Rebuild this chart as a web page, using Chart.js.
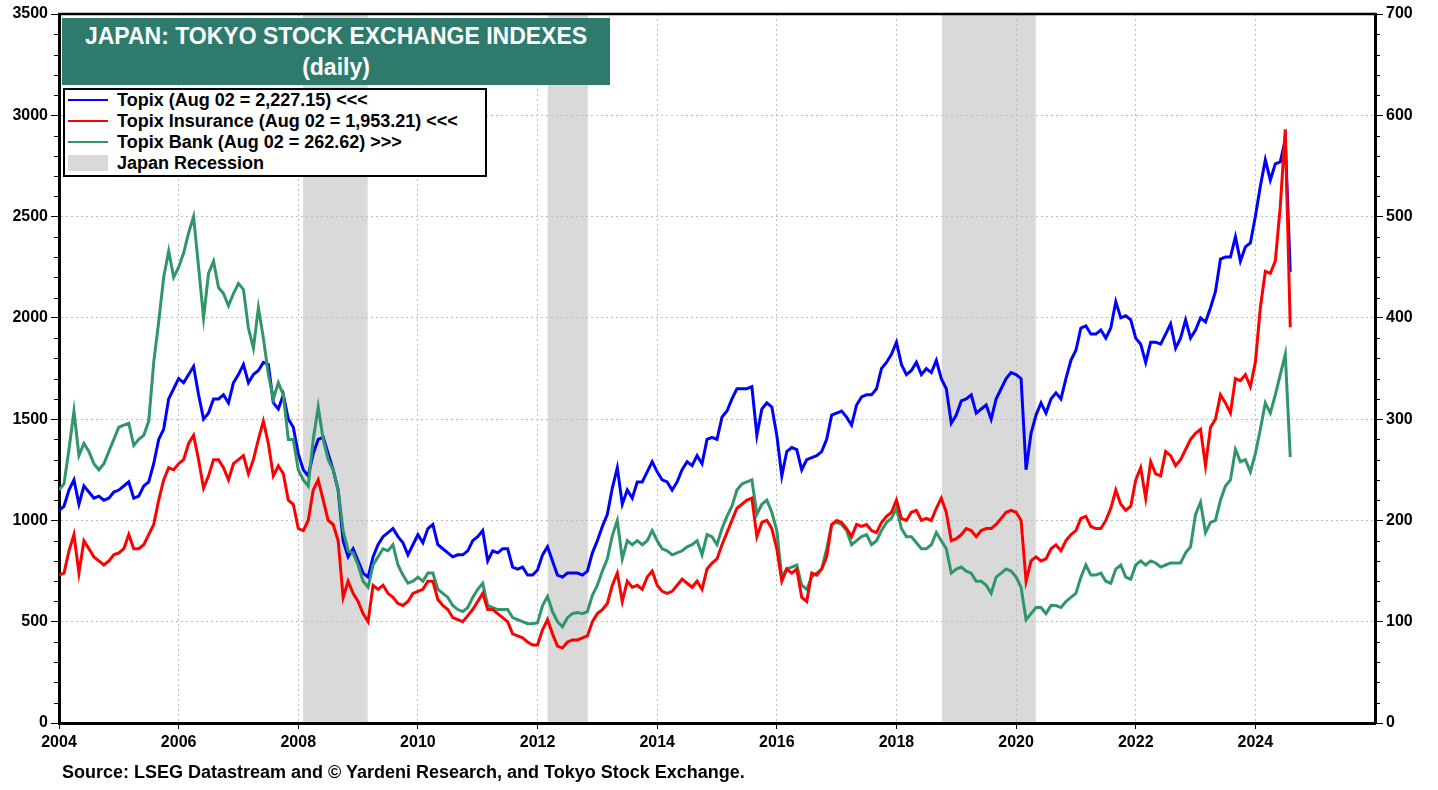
<!DOCTYPE html>
<html>
<head>
<meta charset="utf-8">
<script src="https://cdn.jsdelivr.net/npm/chart.js@4"></script>
<style>
  html, body { margin: 0; padding: 0; background: #fff; }
  #wrap { position: relative; width: 1438px; height: 790px; font-family: "Liberation Sans", Arial, sans-serif; }
  #title { position: absolute; left: 62px; top: 18px; width: 548px; height: 67px; background: #2e7b6e;
           color: #fff; font-weight: bold; font-size: 23px; line-height: 31px; text-align: center; padding-top: 3px; box-sizing: border-box; }
  #legend { position: absolute; left: 63px; top: 88px; width: 424px; height: 89px; border: 2px solid #000;
            background: #fff; box-sizing: border-box; font-weight: bold; font-size: 18px; }
  .row { position: absolute; left: 3px; height: 20px; line-height: 20px; white-space: nowrap; }
  .row span.sw { position: absolute; left: 0; top: 9px; width: 40px; height: 2px; }
  .row span.tx { position: absolute; left: 49px; top: 0; }
  #source { position: absolute; left: 62px; top: 762px; font-weight: bold; font-size: 18px; white-space: nowrap; }
</style>
</head>
<body>
<div id="wrap">
  <canvas id="chart" width="1438" height="790"></canvas>
  <div id="title">JAPAN: TOKYO STOCK EXCHANGE INDEXES<br>(daily)</div>
  <div id="legend">
    <div class="row" style="top:0px"><span class="sw" style="background:#0000ff"></span><span class="tx">Topix (Aug 02 = 2,227.15) &lt;&lt;&lt;</span></div>
    <div class="row" style="top:21px"><span class="sw" style="background:#ff0000"></span><span class="tx">Topix Insurance (Aug 02 = 1,953.21) &lt;&lt;&lt;</span></div>
    <div class="row" style="top:42px"><span class="sw" style="background:#2f9668"></span><span class="tx">Topix Bank (Aug 02 = 262.62) &gt;&gt;&gt;</span></div>
    <div class="row" style="top:63px"><span class="sw" style="background:#d9d9d9;top:2px;height:16px"></span><span class="tx">Japan Recession</span></div>
  </div>
  <div id="source">Source: LSEG Datastream and © Yardeni Research, and Tokyo Stock Exchange.</div>
</div>
<script>
// monthly readings, Jan 2004 .. Aug 2024 (last = Aug 02)
const startYear = 2004;

const topix = [
  1050, 1070, 1150, 1200, 1080, 1170, 1140, 1110, 1120, 1100, 1110, 1140,
  1150, 1170, 1190, 1110, 1120, 1170, 1190, 1280, 1400, 1450, 1600, 1650,
  1700, 1680, 1720, 1760, 1620, 1500, 1530, 1600, 1600, 1620, 1580, 1680,
  1720, 1770, 1680, 1720, 1740, 1780, 1770, 1580, 1550, 1620, 1500, 1460,
  1330, 1250, 1220, 1330, 1400, 1410, 1330, 1250, 1150, 900, 820, 860,
  800, 740, 720, 820, 880, 920, 940, 960, 920, 890, 830, 880,
  930, 890, 960, 980, 880, 860, 840, 820, 830, 830, 850, 900,
  920, 950, 800, 850, 840, 860, 860, 770, 760, 770, 730, 730,
  755, 830, 870, 800, 730, 720, 740, 740, 740, 730, 750, 840,
  900, 970, 1030, 1160, 1260, 1080, 1150, 1110, 1190, 1190, 1240, 1290,
  1240, 1200, 1190, 1150, 1190, 1250, 1290, 1270, 1320, 1280, 1400, 1410,
  1400, 1510, 1540, 1600, 1650, 1650, 1650, 1660, 1420, 1550, 1580, 1560,
  1420, 1220, 1340, 1360, 1350, 1250, 1300, 1310, 1320, 1340, 1400, 1520,
  1530, 1540, 1510, 1470, 1570, 1610, 1620, 1620, 1650, 1750, 1780, 1820,
  1880, 1770, 1720, 1740, 1780, 1720, 1750, 1730, 1790, 1700, 1650, 1480,
  1520, 1590, 1600, 1620, 1530, 1550, 1570, 1500, 1600, 1650, 1700, 1730,
  1720, 1700, 1250, 1430, 1520, 1580, 1530, 1600, 1630, 1600, 1700, 1790,
  1840, 1950, 1960, 1920, 1920, 1940, 1900, 1950, 2080, 2000, 2010, 1990,
  1900, 1870, 1780, 1880, 1880, 1870, 1920, 1970, 1850, 1900, 1990, 1900,
  1940, 2000, 1980, 2050, 2130, 2290, 2300, 2300, 2400, 2280, 2350, 2370,
  2500, 2650, 2780, 2680, 2760, 2770, 2880, 2227.15
];

const insurance = [
  730, 740, 850, 930, 740, 900, 860, 820, 800, 780, 800, 830,
  840, 860, 930, 860, 860, 880, 930, 980, 1100, 1200, 1260, 1250,
  1280, 1300, 1380, 1420, 1300, 1160, 1220, 1300, 1300, 1260, 1200, 1280,
  1300, 1320, 1230, 1300, 1400, 1490, 1380, 1220, 1270, 1230, 1100, 1080,
  960, 950, 1000, 1150, 1200, 1100, 1000, 980, 900, 620, 700, 640,
  600, 540, 500, 680, 660, 680, 640, 620, 590, 580, 600, 640,
  650, 660, 700, 700, 610, 580, 560, 520, 510, 500, 530, 560,
  600, 640, 560, 560, 540, 520, 500, 440, 430, 420, 400, 385,
  385, 460, 510, 440, 380, 370, 400, 410, 410, 420, 430, 500,
  540, 560, 590, 680, 740, 600, 700, 670, 680, 660, 720, 750,
  680, 650, 640, 650, 680, 710, 690, 670, 700, 660, 760, 790,
  810, 880, 940, 1000, 1060, 1080, 1100, 1110, 920, 990, 1000, 960,
  860, 700, 760, 740, 760, 620, 600, 740, 730, 760, 820, 980,
  1000, 990, 960, 920, 980, 970, 980, 950, 940, 990, 1020, 1040,
  1100, 1010, 1000, 1040, 1050, 1000, 1010, 1000, 1060, 1110, 1040, 900,
  910, 930, 960, 950, 920, 950, 960, 960, 980, 1010, 1040, 1050,
  1040, 1000, 700, 800, 820, 800, 810, 860, 880, 850, 900, 930,
  950, 1010, 1020, 970, 960, 960, 1000, 1060, 1150, 1080, 1050, 1070,
  1200, 1260, 1110, 1290, 1230, 1220, 1340, 1320, 1270, 1300, 1350, 1400,
  1430, 1450, 1270, 1460, 1500, 1620, 1580, 1530, 1700, 1690, 1720, 1660,
  1780, 2050, 2230, 2220, 2280, 2550, 2930, 1953.21
];

// right axis
const bank = [
  230, 236, 270, 308, 264, 276, 268, 256, 250, 256, 268, 280,
  292, 294, 296, 274, 280, 284, 298, 356, 396, 440, 466, 440,
  450, 464, 484, 500, 450, 400, 444, 456, 430, 424, 412, 424,
  434, 428, 390, 370, 410, 380, 344, 320, 336, 324, 280, 280,
  250, 240, 234, 280, 312, 280, 260, 250, 230, 190, 170, 168,
  156, 140, 134, 156, 164, 172, 170, 176, 156, 146, 138, 140,
  144, 140, 148, 148, 132, 128, 124, 116, 112, 110, 114, 124,
  132, 138, 116, 114, 112, 112, 112, 104, 102, 100, 98, 98,
  99, 116, 125, 110, 100, 95, 104, 108, 109, 108, 110, 126,
  136, 150, 162, 185, 200, 162, 180, 176, 180, 176, 180, 190,
  180, 172, 170, 166, 168, 170, 174, 176, 180, 166, 186, 184,
  176, 192, 204, 214, 230, 236, 238, 240, 206, 216, 220, 208,
  190, 144, 152, 154, 156, 136, 132, 144, 148, 152, 172, 196,
  198, 196, 190, 176, 180, 184, 186, 176, 180, 190, 198, 202,
  212, 192, 184, 184, 178, 172, 172, 176, 188, 180, 172, 148,
  152, 154, 150, 148, 140, 140, 136, 128, 144, 148, 152, 150,
  144, 134, 102, 108, 114, 114, 108, 116, 116, 114, 120, 124,
  128, 144, 156, 146, 146, 148, 140, 138, 152, 156, 144, 142,
  156, 160, 156, 160, 158, 154, 156, 158, 158, 158, 168, 174,
  206, 218, 188, 198, 200, 220, 234, 240, 270, 258, 260, 248,
  266, 290, 316, 306, 324, 344, 364, 262.62
];

const recessionStart = [2008.08, 2012.17, 2018.76];
const recessionEnd = [2009.16, 2012.84, 2020.33];
const xTickYears = [2004, 2006, 2008, 2010, 2012, 2014, 2016, 2018, 2020, 2022, 2024];

const toPoints = arr => arr.map((v, i) => ({ x: startYear + i / 12, y: v }));

const tickFont = { family: 'Liberation Sans, Arial, sans-serif', size: 16, weight: 'bold' };

const recessionPlugin = {
  id: 'recessions',
  beforeDraw(chart) {
    const { ctx, chartArea, scales } = chart;
    ctx.save();
    ctx.fillStyle = '#d9d9d9';
    recessionStart.forEach((s, i) => {
      const x0 = scales.x.getPixelForValue(s);
      const x1 = scales.x.getPixelForValue(recessionEnd[i]);
      ctx.fillRect(x0, chartArea.top, x1 - x0, chartArea.bottom - chartArea.top);
    });
    ctx.restore();
  }
};

const framePlugin = {
  id: 'frame',
  afterDraw(chart) {
    const { ctx, chartArea, scales } = chart;
    ctx.save();
    ctx.strokeStyle = '#000';
    ctx.lineWidth = 2.5;
    ctx.beginPath();
    ctx.moveTo(chartArea.left - 1, chartArea.top);
    ctx.lineTo(chartArea.right + 1, chartArea.top);
    ctx.stroke();
    // minor ticks
    ctx.lineWidth = 1;
    for (let v = 100; v < 3500; v += 100) {
      if (v % 500 === 0) continue;
      const y = Math.round(scales.y.getPixelForValue(v)) + 0.5;
      ctx.beginPath();
      ctx.moveTo(chartArea.left - 5, y);
      ctx.lineTo(chartArea.left, y);
      ctx.stroke();
    }
    for (let v = 20; v < 700; v += 20) {
      if (v % 100 === 0) continue;
      const y = Math.round(scales.y2.getPixelForValue(v)) + 0.5;
      ctx.beginPath();
      ctx.moveTo(chartArea.right, y);
      ctx.lineTo(chartArea.right + 5, y);
      ctx.stroke();
    }
    ctx.restore();
  }
};

new Chart(document.getElementById('chart'), {
  type: 'line',
  data: {
    datasets: [
      { label: 'Topix Insurance', data: toPoints(insurance), yAxisID: 'y', borderColor: '#ff0000', order: 1 },
      { label: 'Topix Bank', data: toPoints(bank), yAxisID: 'y2', borderColor: '#2f9668', order: 2 },
      { label: 'Topix', data: toPoints(topix), yAxisID: 'y', borderColor: '#0000ff', order: 3 }
    ]
  },
  options: {
    responsive: false,
    animation: false,
    layout: { padding: { top: 14 } },
    elements: {
      line: { borderWidth: 3, tension: 0 },
      point: { radius: 0 }
    },
    plugins: { legend: { display: false }, tooltip: { enabled: false } },
    scales: {
      x: {
        type: 'linear',
        min: 2004,
        max: 2026,
        afterBuildTicks: s => { s.ticks = xTickYears.map(v => ({ value: v })); },
        afterFit: s => { s.height = 67; },
        ticks: { font: tickFont, color: '#000', padding: 4, maxRotation: 0, callback: v => String(v) },
        grid: { color: '#bdbdbd', lineWidth: 1, tickColor: '#000', tickLength: 6, tickBorderDash: [] },
        border: { color: '#000', width: 3, dash: [2, 3] }
      },
      y: {
        position: 'left',
        min: 0,
        max: 3500,
        afterFit: s => { s.width = 59; },
        ticks: { stepSize: 500, font: tickFont, color: '#000', padding: 3, callback: v => String(v) },
        grid: { color: '#bdbdbd', lineWidth: 1, tickColor: '#000', tickLength: 8, tickBorderDash: [] },
        border: { color: '#000', width: 3, dash: [2, 3] }
      },
      y2: {
        position: 'right',
        min: 0,
        max: 700,
        afterFit: s => { s.width = 63; },
        ticks: { stepSize: 100, font: tickFont, color: '#000', padding: 3, callback: v => String(v) },
        grid: { drawOnChartArea: false, tickColor: '#000', tickLength: 8 },
        border: { color: '#000', width: 3 }
      }
    }
  },
  plugins: [recessionPlugin, framePlugin]
});
</script>
</body>
</html>
